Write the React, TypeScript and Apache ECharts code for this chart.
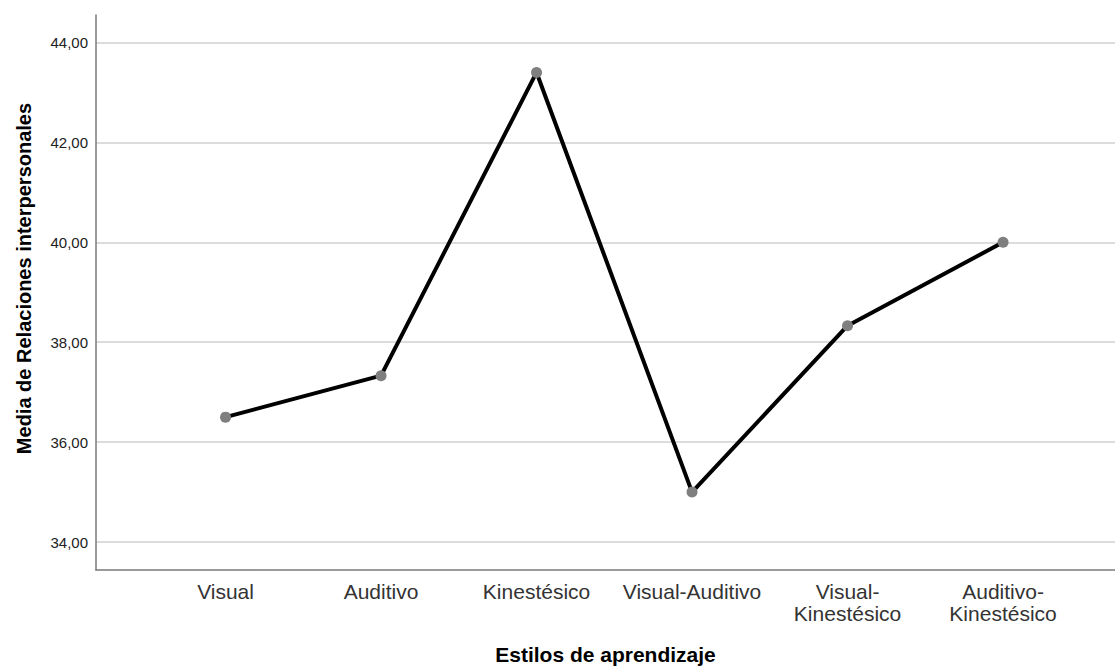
import React, { useEffect, useRef } from "react";
import * as echarts from "echarts";

const categories = [
  "Visual",
  "Auditivo",
  "Kinestésico",
  "Visual-Auditivo",
  "Visual-\nKinestésico",
  "Auditivo-\nKinestésico",
];
const means = [36.5, 37.33, 43.4, 35.0, 38.33, 40.0];
const yTicks = [34, 36, 38, 40, 42, 44];
const xPositions = [0, 1, 2, 3, 4, 5];

export default function App() {
  const ref = useRef<HTMLDivElement>(null);
  useEffect(() => {
    document.body.style.margin = "0";
    const chart = echarts.init(ref.current!, null, { renderer: "svg" });
    const font = "'Liberation Sans', Arial, sans-serif";
    chart.setOption({
      animation: false,
      backgroundColor: "#ffffff",
      grid: { left: 96, right: 0, top: 15, bottom: 98, containLabel: false },
      xAxis: {
        type: "value",
        min: -0.833,
        max: 5.72,
        name: "Estilos de aprendizaje",
        nameLocation: "middle",
        nameGap: 74,
        nameTextStyle: { fontFamily: font, fontWeight: "bold", fontSize: 21, color: "#000" },
        axisLine: { show: true, onZero: false, lineStyle: { color: "#7a7a7a", width: 1.5 } },
        axisTick: { show: false, customValues: xPositions },
        splitLine: { show: false },
        axisLabel: {
          customValues: xPositions,
          formatter: (v: number) => categories[Math.round(v)] ?? "",
          fontFamily: font,
          fontSize: 21,
          lineHeight: 22,
          color: "#333",
          margin: 10,
        },
      },
      yAxis: {
        type: "value",
        min: 33.44,
        max: 44.55,
        name: "Media de Relaciones interpersonales",
        nameLocation: "middle",
        nameGap: 62,
        nameTextStyle: {
          fontFamily: font,
          fontWeight: "bold",
          fontSize: 20,
          color: "#000",
          padding: [0, 0, 0, 28],
        },
        axisLine: { show: true, onZero: false, lineStyle: { color: "#7a7a7a", width: 1.5 } },
        axisTick: { show: false, customValues: yTicks },
        splitLine: { show: true, lineStyle: { color: "#d0d0d0", width: 1.5 } },
        axisLabel: {
          customValues: yTicks,
          formatter: (v: number) => v.toFixed(2).replace(".", ","),
          fontFamily: font,
          fontSize: 15,
          color: "#222",
          margin: 8,
        },
      },
      series: [
        {
          type: "line",
          data: means.map((m, i) => [xPositions[i], m]),
          lineStyle: { color: "#000", width: 4 },
          itemStyle: { color: "#7f7f7f" },
          symbol: "circle",
          symbolSize: 11,
          showSymbol: true,
        },
      ],
    });
    return () => chart.dispose();
  }, []);
  return <div ref={ref} style={{ width: 1115, height: 670 }} />;
}
